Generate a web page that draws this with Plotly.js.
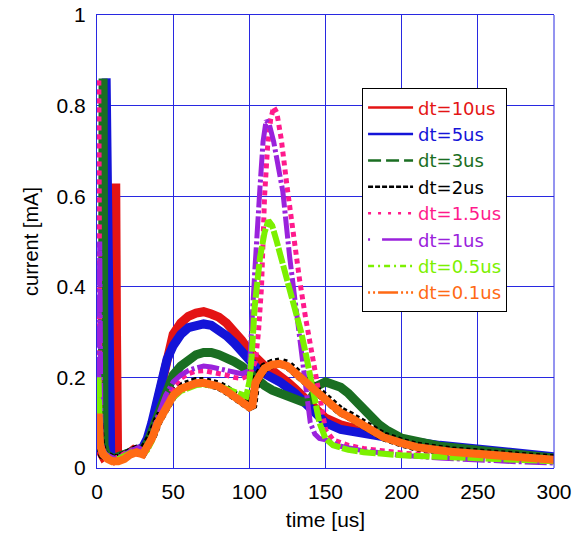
<!DOCTYPE html>
<html>
<head>
<meta charset="utf-8">
<script src="https://cdn.plot.ly/plotly-3.0.1.min.js"></script>
<style>html,body{margin:0;padding:0;background:#fff;}#chart{width:579px;height:535px;}</style>
</head>
<body>
<div id="chart"></div>
<script>
// ---- data (time in us, current in mA) ----
const labels = ['dt=10us','dt=5us','dt=3us','dt=2us','dt=1.5us','dt=1us','dt=0.5us','dt=0.1us'];

const t10 = [0,1,2,4,6,8,10,11.2,11.8,12.3,12.8,13.5,15,18,21,24,27,30,33,36,40,43,46,50,55,60,65,70,75,80,85,90,95,100,105,110,115,120,125,130,135,140,145,150,160,175,190,200,225,250,275,300];
const i10 = [0.05,0.04,0.03,0.025,0.03,0.025,0.02,0.03,0.46,0.628,0.3,0.03,0.02,0.025,0.035,0.04,0.035,0.04,0.06,0.09,0.15,0.2,0.25,0.295,0.32,0.335,0.342,0.345,0.34,0.333,0.32,0.302,0.282,0.258,0.238,0.225,0.215,0.205,0.19,0.175,0.158,0.14,0.125,0.11,0.095,0.08,0.068,0.06,0.047,0.038,0.03,0.022];

const t5 = [0,1,2,3,4,5.5,6,6.8,7.3,8,9,11,14,17,20,23,26,30,33,36,40,43,46,50,55,60,65,70,75,80,85,90,95,100,105,110,120,130,140,150,160,175,200,225,250,275,300];
const i5 = [0.06,0.05,0.04,0.04,0.045,0.05,0.86,0.6,0.35,0.06,0.03,0.02,0.025,0.03,0.035,0.04,0.04,0.045,0.065,0.1,0.16,0.2,0.24,0.27,0.295,0.31,0.316,0.318,0.315,0.305,0.292,0.276,0.256,0.236,0.22,0.208,0.19,0.165,0.13,0.1,0.085,0.075,0.062,0.05,0.04,0.032,0.025];

const t3 = [0,1,2,3.5,4,4.6,6,8,11,14,17,20,23,26,30,33,36,40,45,50,55,60,65,70,75,80,85,90,95,100,105,110,115,120,125,130,135,140,145,150,155,160,165,170,175,180,185,190,200,225,250,275,300];
const i3 = [0.06,0.05,0.05,0.05,0.86,0.05,0.03,0.025,0.02,0.025,0.03,0.035,0.04,0.04,0.04,0.055,0.08,0.12,0.17,0.205,0.225,0.24,0.25,0.255,0.255,0.25,0.245,0.235,0.225,0.21,0.2,0.182,0.172,0.165,0.16,0.152,0.146,0.15,0.182,0.19,0.186,0.178,0.165,0.148,0.128,0.11,0.096,0.084,0.066,0.048,0.038,0.03,0.022];

const t2 = [0,1,2,4,7,10,14,18,22,26,30,33,36,40,45,50,55,60,65,70,75,80,85,90,95,100,102,104,107,110,115,120,125,130,135,140,145,150,155,160,166,172,177,182,188,200,210,232,265,300];
const i2 = [0.06,0.1,0.05,0.03,0.025,0.02,0.02,0.025,0.035,0.04,0.035,0.05,0.07,0.105,0.14,0.163,0.178,0.186,0.19,0.19,0.187,0.182,0.172,0.16,0.148,0.137,0.14,0.19,0.208,0.222,0.23,0.233,0.228,0.213,0.198,0.18,0.165,0.15,0.137,0.125,0.115,0.102,0.092,0.082,0.07,0.056,0.047,0.037,0.029,0.019];

const t15 = [0,0.6,1.2,2,3,5,8,11,14,17,20,23,26,30,33,36,40,45,50,55,60,65,70,75,80,85,90,95,100,104,106,108,110,112,114,116,118,121,125,129,133,137,141,144,147,150,155,165,175,200,225,250,275,300];
const i15 = [0.05,0.1,0.86,0.05,0.03,0.025,0.02,0.02,0.025,0.03,0.035,0.04,0.04,0.035,0.045,0.065,0.1,0.145,0.178,0.198,0.208,0.214,0.215,0.212,0.21,0.205,0.2,0.198,0.205,0.235,0.3,0.4,0.6,0.71,0.77,0.797,0.785,0.725,0.615,0.51,0.415,0.33,0.25,0.19,0.13,0.085,0.062,0.05,0.043,0.033,0.027,0.022,0.018,0.015];

const t1 = [0,1,1.8,2.6,4,6,9,12,15,18,21,24,27,30,33,36,40,45,50,55,60,65,70,75,80,85,90,95,100,101.5,103.5,107,109,111,113,116,119,122,126.5,132,136,140,143,146,150,160,175,200,225,250,275,300];
const i1 = [0.06,0.1,0.5,0.06,0.04,0.03,0.025,0.02,0.025,0.03,0.035,0.04,0.045,0.04,0.05,0.07,0.115,0.16,0.19,0.205,0.215,0.221,0.225,0.223,0.219,0.214,0.21,0.208,0.215,0.32,0.43,0.62,0.72,0.767,0.76,0.72,0.67,0.61,0.465,0.32,0.2,0.1,0.075,0.065,0.062,0.048,0.038,0.028,0.022,0.017,0.014,0.011];

const t05 = [0,1,2,3,5,8,11,14,17,20,23,26,30,33,36,40,45,50,55,60,65,70,75,80,85,90,95,98,100,101.5,103.5,107,110,112.5,115,118,122,126,130,134,137.5,141,146,150,155,165,175,200,250,300];
const i05 = [0.05,0.2,0.06,0.04,0.03,0.02,0.015,0.02,0.025,0.03,0.035,0.035,0.03,0.04,0.06,0.1,0.13,0.155,0.17,0.178,0.183,0.185,0.183,0.18,0.175,0.17,0.162,0.158,0.19,0.245,0.355,0.465,0.52,0.546,0.535,0.5,0.45,0.4,0.355,0.3,0.245,0.18,0.1,0.065,0.05,0.04,0.035,0.028,0.02,0.015];

const t01 = t2;
const i01 = [0.05,0.12,0.05,0.03,0.02,0.015,0.015,0.02,0.03,0.035,0.03,0.045,0.065,0.1,0.135,0.16,0.175,0.183,0.187,0.188,0.185,0.18,0.17,0.158,0.145,0.134,0.138,0.188,0.205,0.22,0.228,0.23,0.225,0.21,0.195,0.178,0.162,0.148,0.134,0.122,0.112,0.1,0.09,0.08,0.068,0.055,0.046,0.036,0.028,0.018];

const xTicks = [0,50,100,150,200,250,300];
const yTicks = [0,0.2,0.4,0.6,0.8,1];
const yTickText = ['0','0.2','0.4','0.6','0.8','1'];

// ---- styles ----
const colors = ['#e41414','#1414d8','#1a6e22','#000000','#ff1a8c','#9a22dc','#7cf000','#ff6a14'];
const plotDash = ['solid','solid','solid','4px,3px','5px,4px','22px,3px,3px,3px','16px,2px','solid'];
const plotWidth = [9,9,9,10,5,5,6,8];
const legendDash = ['solid','solid','13px,5px','5px,2px','3px,7px','2px,12px,30px,4px','6px,4px,2px,4px','2px,3px,2px,3px,20px,3px'];
const series = [[t10,i10],[t5,i5],[t3,i3],[t2,i2],[t15,i15],[t1,i1],[t05,i05],[t01,i01]];

const traces = [];
series.forEach((s, k) => {
  traces.push({
    x: s[0], y: s[1], type: 'scatter', mode: 'lines',
    line: {color: colors[k], width: plotWidth[k], dash: plotDash[k]},
    showlegend: false, hoverinfo: 'skip'
  });
});
series.forEach((s, k) => {
  traces.push({
    x: [null], y: [null], type: 'scatter', mode: 'lines',
    name: '<span style="color:' + colors[k] + '">' + labels[k] + '</span>',
    line: {color: colors[k], width: 2.5, dash: legendDash[k]},
    showlegend: true
  });
});

const axisColor = 'rgb(40,40,225)';
const layout = {
  width: 579, height: 535,
  margin: {l: 97, r: 25, t: 15, b: 67},
  paper_bgcolor: '#fff', plot_bgcolor: '#fff',
  font: {family: 'Liberation Sans, Arial, sans-serif', color: '#000'},
  showlegend: true,
  legend: {
    x: 0.58, y: 0.838, xanchor: 'left', yanchor: 'top',
    bgcolor: '#fff', bordercolor: '#000', borderwidth: 1,
    font: {size: 18, family: 'DejaVu Sans, sans-serif'},
    itemwidth: 45, tracegroupgap: 0, entrywidth: 150, entrywidthmode: 'pixels'
  },
  xaxis: {
    range: [0, 300], tickvals: xTicks, ticktext: xTicks.map(String),
    showgrid: true, gridcolor: axisColor, gridwidth: 1,
    showline: true, linecolor: axisColor, linewidth: 1, mirror: 'ticks',
    ticks: 'inside', ticklen: 5, tickcolor: axisColor,
    zeroline: false, ticklabelstandoff: 5,
    tickfont: {size: 21, color: '#000'},
    title: {text: 'time [us]', font: {size: 21, color: '#000'}, standoff: 10}
  },
  yaxis: {
    range: [0, 1], tickvals: yTicks, ticktext: yTickText,
    showgrid: true, gridcolor: axisColor, gridwidth: 1,
    showline: true, linecolor: axisColor, linewidth: 1, mirror: false,
    ticks: 'outside', ticklen: 6, tickcolor: 'rgba(0,0,0,0)',
    zeroline: false,
    tickfont: {size: 21, color: '#000'},
    title: {text: 'current [mA]', font: {size: 20, color: '#000'}, standoff: 12}
  },
  shapes: [
    {type: 'line', xref: 'paper', yref: 'paper', x0: 1, x1: 1, y0: 0, y1: 1, line: {color: axisColor, width: 1}}
  ]
};

Plotly.newPlot('chart', traces, layout, {displayModeBar: false, staticPlot: true});
</script>
</body>
</html>
